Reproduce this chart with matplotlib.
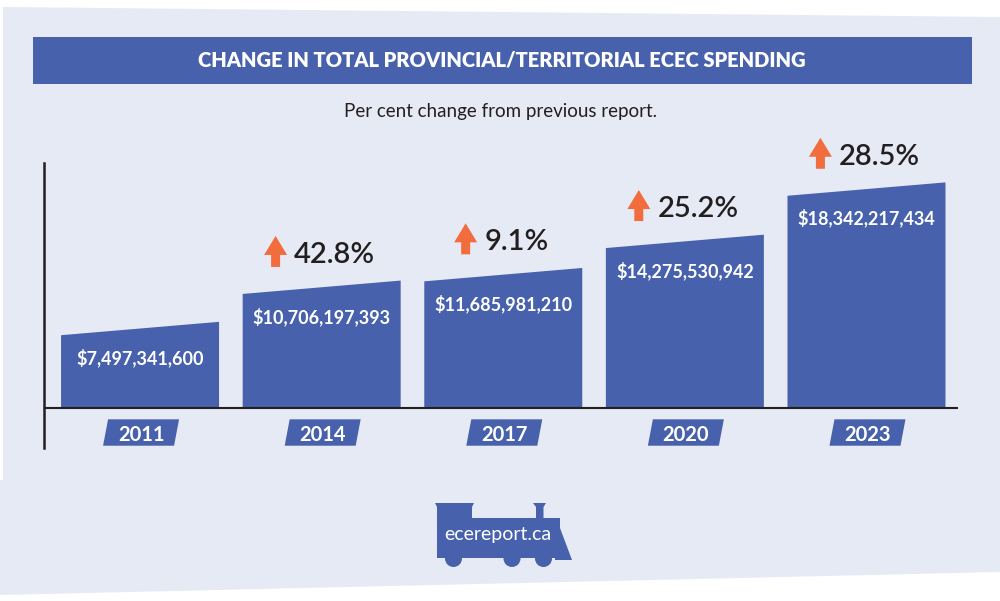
import matplotlib
matplotlib.use("Agg")
import matplotlib.pyplot as plt
import matplotlib.transforms as mtransforms
from matplotlib.patches import Polygon, Circle, Rectangle

plt.rcParams["font.family"] = ["Lato", "DejaVu Sans"]

years = ["2011", "2014", "2017", "2020", "2023"]
spending = [7497341600, 10706197393, 11685981210, 14275530942, 18342217434]
pct_change = [None, 42.8, 9.1, 25.2, 28.5]

title = "CHANGE IN TOTAL PROVINCIAL/TERRITORIAL ECEC SPENDING"
subtitle = "Per cent change from previous report."
site = "ecereport.ca"

BLUE = "#4861AC"
PANEL = "#E6EAF4"
ORANGE = "#F26D3D"
DARK = "#231F20"

W, H = 1000, 601
fig = plt.figure(figsize=(W / 100, H / 100), dpi=100)
fig.patch.set_facecolor("white")

# background layer in pixel coordinates (y down)
bg = fig.add_axes([0, 0, 1, 1], zorder=0)
bg.set_xlim(0, W)
bg.set_ylim(H, 0)
bg.axis("off")
bg.add_patch(Polygon([(3, 7), (W, 17), (W, 572), (0, 595), (0, 480), (3, 480)],
                     closed=True, facecolor=PANEL, lw=0))
bg.add_patch(Rectangle((33, 37), 939, 47, facecolor=BLUE, lw=0))
bg.text(502, 66.5, title, color="white", fontsize=14.5, fontweight="heavy",
        ha="center", va="baseline")
bg.text(500.5, 117.5, subtitle, color=DARK, fontsize=13.5, ha="center", va="baseline")

# train logo
train = [(435, 503), (474, 503), (472, 507), (472, 518), (536, 518), (536, 507),
         (533, 503), (546, 503), (543.5, 507), (543.5, 518), (560, 518), (560, 528),
         (572, 560), (555, 560), (555, 558), (437, 558), (437, 507)]
bg.add_patch(Polygon(train, closed=True, facecolor=BLUE, lw=0))
for cx in (453.5, 512, 543.5):
    bg.add_patch(Circle((cx, 558.5), 8.5, facecolor=BLUE, lw=0))
bg.text(497.5, 540, site, color="white", fontsize=14, ha="center", va="baseline")


def px_box(left, top, right, bottom):
    return [left / W, 1 - bottom / H, (right - left) / W, (bottom - top) / H]


ax = fig.add_axes(px_box(44, 163, 958, 448), zorder=1)
ax.patch.set_alpha(0)
base = 1.314
tilt = 0.52
bw = 0.87
ax.set_xlim(-0.529, 4.504)
ax.set_ylim(-1.796, 20.37)
ax.set_xticks([])
ax.set_yticks([])
for side in ("top", "right", "bottom"):
    ax.spines[side].set_visible(False)
ax.spines["left"].set_linewidth(1.8)
ax.spines["left"].set_color(DARK)
ax.axhline(base, color=DARK, lw=1.5, zorder=3)


def anchored(x, y):
    # pixel-sized shapes pinned to a data point
    return mtransforms.Affine2D() + mtransforms.ScaledTranslation(x, y, ax.transData)


vals = [v / 1e9 for v in spending]
renderer = fig.canvas.get_renderer()

for i, (yr, v, amt, pct) in enumerate(zip(years, vals, spending, pct_change)):
    ax.add_patch(Polygon([(i - bw / 2, base), (i + bw / 2, base),
                          (i + bw / 2, v + tilt), (i - bw / 2, v - tilt)],
                         closed=True, facecolor=BLUE, lw=0, zorder=2))
    ax.annotate(f"${amt:,}", xy=(i, v), xytext=(0, -35.5), textcoords="offset pixels",
                ha="center", va="baseline", color="white", fontsize=13, fontweight="bold")

    # year tag
    ax.add_patch(Polygon([(-37, -37.7), (34, -37.7), (39, -11.3), (-32, -11.3)],
                         closed=True, facecolor=BLUE, lw=0,
                         transform=anchored(i, base), clip_on=False))
    ax.annotate(yr, xy=(i, base), xytext=(1, -32.5), textcoords="offset pixels",
                ha="center", va="baseline", color="white", fontsize=14.5, fontweight="bold")

    if pct is None:
        continue
    t = ax.annotate(f"{pct}%", xy=(i, v - tilt), xytext=(0, 31), textcoords="offset pixels",
                    ha="left", va="baseline", color=DARK, fontsize=21, fontweight="semibold")
    tw = t.get_window_extent(renderer).width
    left = -2 - (30 + tw) / 2
    t.xyann = (left + 30, 31)
    ac = left + 11.5
    arrow = [(ac - 4.5, 27), (ac + 4.5, 27), (ac + 4.5, 39), (ac + 11.5, 39), (ac, 58),
             (ac - 11.5, 39), (ac - 4.5, 39)]
    ax.add_patch(Polygon(arrow, closed=True, facecolor=ORANGE, lw=0,
                         transform=anchored(i, v - tilt), clip_on=False))

fig.savefig("out.png", dpi=100, facecolor=fig.get_facecolor())
